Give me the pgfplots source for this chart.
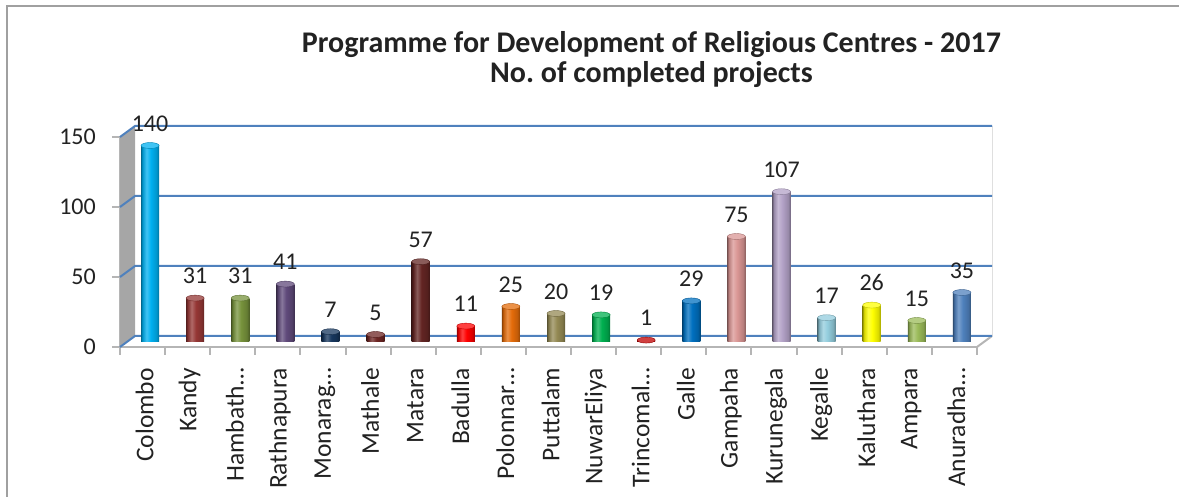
\documentclass[border=0pt]{standalone}
\usepackage{pgfplots}
\pgfplotsset{compat=1.18}
\usepackage{fontspec}
\setmainfont{Carlito}

\definecolor{gridblue}{HTML}{4F81BD}
\definecolor{axisgray}{HTML}{B5B5B5}
\definecolor{wallgray}{HTML}{A6A6A6}
\definecolor{framegray}{HTML}{A0A0A0}
\definecolor{txt}{HTML}{222222}
\definecolor{c0}{HTML}{00B0F0}
\definecolor{c1}{HTML}{953735}
\definecolor{c2}{HTML}{77933C}
\definecolor{c3}{HTML}{604A7B}
\definecolor{c4}{HTML}{17375E}
\definecolor{c5}{HTML}{6E2624}
\definecolor{c6}{HTML}{632523}
\definecolor{c7}{HTML}{FF0000}
\definecolor{c8}{HTML}{E46C0A}
\definecolor{c9}{HTML}{948A54}
\definecolor{c10}{HTML}{00B050}
\definecolor{c11}{HTML}{C00000}
\definecolor{c12}{HTML}{0070C0}
\definecolor{c13}{HTML}{DA9694}
\definecolor{c14}{HTML}{B3A2C7}
\definecolor{c15}{HTML}{93CDDD}
\definecolor{c16}{HTML}{FFFF00}
\definecolor{c17}{HTML}{9BBB59}
\definecolor{c18}{HTML}{4F81BD}

\colorlet{barcol}{c0}
\pgfdeclarehorizontalshading[barcol]{cyl}{100bp}{%
  color(0bp)=(barcol!60!black); color(25bp)=(barcol!60!black);
  color(29bp)=(barcol!85!black); color(40bp)=(barcol!75!white);
  color(52bp)=(barcol); color(68bp)=(barcol!85!black);
  color(75bp)=(barcol!65!black); color(100bp)=(barcol!65!black)}

% one cylinder: body + top ellipse with the value label
\newcommand{\cyl}[3]{%
  \addplot[ybar, bar width=18pt, bar shift=0pt, draw=none,
    /utils/exec={\colorlet{barcol}{#3}}, shading=cyl]
    coordinates {(#1,#2)};
  \addplot[only marks, mark=*, mark size=9pt,
    mark options={draw=#3!75!black, fill=#3!75!white, yscale=0.33},
    nodes near coords, point meta=explicit,
    every node near coord/.style={font=\fontsize{24}{24}\selectfont, text=txt,
      anchor=south, inner sep=0pt, yshift=14pt}]
    coordinates {(#1,#2) [#2]};
}

\begin{document}
\begin{tikzpicture}
\useasboundingbox (0,0) rectangle (1179pt,497pt);
\draw[framegray, line width=1.5pt] (7pt,0) -- (7pt,491pt) -- (1179pt,491pt);

\node[font=\fontsize{30}{33}\selectfont\bfseries, text=txt, anchor=base]
  at (651.5pt,444pt) {Programme for Development of Religious Centres - 2017};
\node[font=\fontsize{30}{33}\selectfont\bfseries, text=txt, anchor=base]
  at (651.5pt,414pt) {No.\ of completed projects};

\begin{axis}[
    at={(120pt,150pt)}, anchor=south west,
    width=857pt, height=210pt, scale only axis,
    xmin=-0.5, xmax=18.5, ymin=0, ymax=150,
    axis x line*=bottom, axis y line*=left,
    axis line style={draw=axisgray, line width=2pt, -},
    clip=false,
    ytick={0,50,100,150},
    xtick={-0.5,0.5,...,18.5},
    x tick label as interval,
    xticklabels={Colombo,Kandy,Hambath…,Rathnapura,Monarag…,Mathale,Matara,Badulla,
      Polonnar…,Puttalam,NuwarEliya,Trincomal…,Galle,Gampaha,Kurunegala,Kegalle,
      Kaluthara,Ampara,Anuradha…},
    tick align=outside,
    major tick length=8pt,
    tick style={draw=axisgray, line width=2pt},
    /pgf/number format/assume math mode=true,
    ticklabel style={text=txt, inner sep=0pt},
    yticklabel style={font=\fontsize{24}{24}\selectfont, anchor=east, xshift=-16pt},
    xticklabel style={font=\fontsize{25.5}{26}\selectfont, rotate=90, anchor=east,
      xshift=-13pt, yshift=-2pt},
    every axis plot/.append style={xshift=7.5pt, yshift=5.5pt},
]
    % side wall and back wall grid
    \fill[wallgray] (axis cs:-0.5,0) -- (axis cs:-0.5,150)
        -- ([shift={(15pt,11pt)}]axis cs:-0.5,150) -- ([shift={(15pt,11pt)}]axis cs:-0.5,0) -- cycle;
    \draw[gray!25, line width=0.8pt] ([shift={(15pt,11pt)}]axis cs:18.5,0) -- ([shift={(15pt,11pt)}]axis cs:18.5,150);
    \draw[axisgray, line width=2pt] (axis cs:18.5,0) -- ([shift={(15pt,11pt)}]axis cs:18.5,0);
    \draw[gridblue, line width=2pt] (axis cs:-0.5,0) -- ([shift={(15pt,11pt)}]axis cs:-0.5,0) -- ([shift={(15pt,11pt)}]axis cs:18.5,0);
    \draw[gridblue, line width=2pt] (axis cs:-0.5,50) -- ([shift={(15pt,11pt)}]axis cs:-0.5,50) -- ([shift={(15pt,11pt)}]axis cs:18.5,50);
    \draw[gridblue, line width=2pt] (axis cs:-0.5,100) -- ([shift={(15pt,11pt)}]axis cs:-0.5,100) -- ([shift={(15pt,11pt)}]axis cs:18.5,100);
    \draw[gridblue, line width=2pt] (axis cs:-0.5,150) -- ([shift={(15pt,11pt)}]axis cs:-0.5,150) -- ([shift={(15pt,11pt)}]axis cs:18.5,150);

    \cyl{0}{140}{c0}
    \cyl{1}{31}{c1}
    \cyl{2}{31}{c2}
    \cyl{3}{41}{c3}
    \cyl{4}{7}{c4}
    \cyl{5}{5}{c5}
    \cyl{6}{57}{c6}
    \cyl{7}{11}{c7}
    \cyl{8}{25}{c8}
    \cyl{9}{20}{c9}
    \cyl{10}{19}{c10}
    \cyl{11}{1}{c11}
    \cyl{12}{29}{c12}
    \cyl{13}{75}{c13}
    \cyl{14}{107}{c14}
    \cyl{15}{17}{c15}
    \cyl{16}{26}{c16}
    \cyl{17}{15}{c17}
    \cyl{18}{35}{c18}
\end{axis}
\end{tikzpicture}
\end{document}
